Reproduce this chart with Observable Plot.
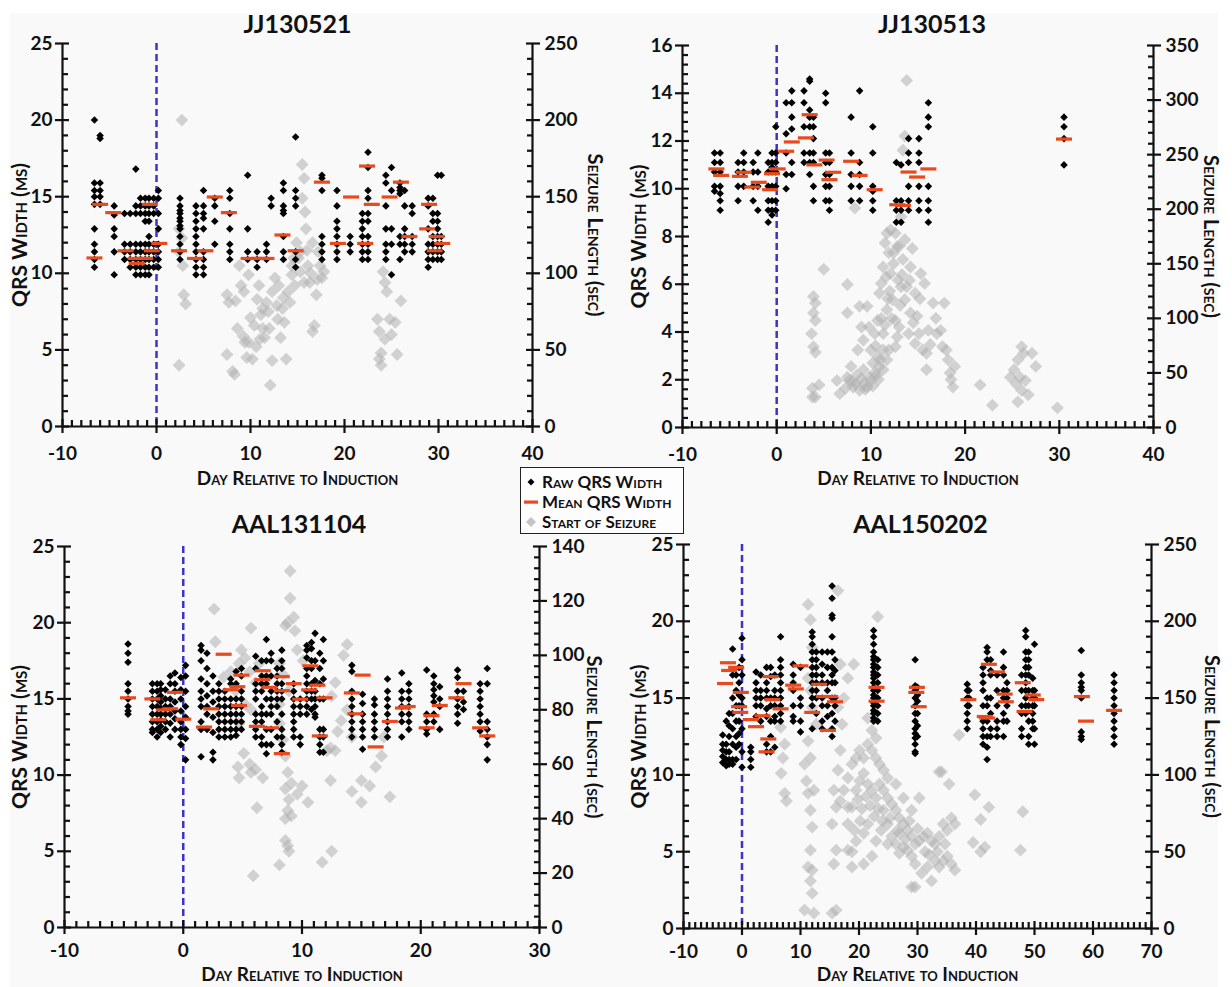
<!DOCTYPE html>
<html><head><meta charset="utf-8">
<script src="https://cdn.jsdelivr.net/npm/d3@7"></script>
<script src="https://cdn.jsdelivr.net/npm/@observablehq/plot@0.6"></script>
<style>
html,body{margin:0;padding:0;background:#fff;}
#root{position:relative;width:1232px;height:987px;overflow:hidden;font-family:Lato,"DejaVu Sans",sans-serif;}
#bg{position:absolute;left:10px;top:13px;width:1208px;height:974px;background:#f9f9f9;}
.panel{position:absolute;}
.panel svg{position:absolute;left:0;top:0;}
#legend{position:absolute;left:520px;top:467px;width:162px;height:65px;border:1.5px solid #222;background:#fdfdfd;font-weight:bold;font-variant:small-caps;font-size:17px;color:#111;}
#legend .row{position:absolute;left:0;height:20px;line-height:20px;white-space:nowrap;}
#legend svg{position:absolute;left:3px;top:4px;}
#legend span{position:absolute;left:21px;top:0;}
</style></head><body>
<div id="root"><div id="bg"></div></div>
<script>
// ---------- Panel 1: JJ130521 ----------
const p1XTicks = [-10, 0, 10, 20, 30, 40];
const p1YTicks = [0, 5, 10, 15, 20, 25];
const p1RTicks = [0, 50, 100, 150, 200, 250];
const p1Raw = [
  [-6.6,[20.0,15.9,15.4,15.0,14.5,12.9,11.9,11.4,10.9,10.4]],
  [-6.0,[19.0,18.8,15.9,15.4,15.0,14.5]],
  [-4.5,[14.4,13.8,12.9,12.4,11.4,9.9]],
  [-3.4,[13.9,11.9,11.4,10.9]],
  [-2.8,[13.9,11.9,11.4,10.9,10.4]],
  [-2.2,[16.8,14.4,13.9,11.9,11.4,10.9,10.4,9.9]],
  [-1.7,[14.9,14.4,13.9,11.9,11.4,10.9,10.4,9.9]],
  [-1.2,[14.9,14.4,13.9,13.4,11.9,11.4,10.9,10.4,9.9]],
  [-0.8,[14.9,14.4,13.9,13.4,12.4,11.9,11.4,10.9,10.4,9.9]],
  [-0.3,[14.9,14.4,13.9,11.9,11.4,10.9,10.4]],
  [0.2,[15.4,14.9,13.9,12.9,11.9,11.4,10.9,10.4]],
  [2.5,[14.9,14.4,14.1,13.9,13.6,13.4,13.1,12.9,12.4,11.9,11.4,10.9]],
  [4.2,[14.4,13.9,13.4,12.9,12.4,11.9,11.4,10.9,10.4,9.9]],
  [5.0,[15.4,14.4,13.9,13.6,12.9,11.4,10.9,10.4,9.9]],
  [6.2,[14.9,14.4,13.4,11.9]],
  [7.8,[15.4,14.9,13.9,12.9,11.9,11.4,10.9]],
  [9.7,[16.4,12.9,11.4,10.9]],
  [10.7,[11.4,10.9,10.4]],
  [11.7,[11.9,11.4,10.9]],
  [12.2,[14.9,14.4]],
  [13.5,[15.9,15.4,14.4,14.1,13.9,12.4,11.4,10.9]],
  [14.8,[18.9,15.4,14.9,14.4,11.4,10.9,10.4]],
  [17.6,[16.4,16.2,15.4,12.4,11.9,11.4,10.9]],
  [19.2,[15.4,14.4,13.4,12.9,12.4,11.9,11.4,10.9]],
  [20.6,[12.4,11.9,11.4]],
  [21.9,[13.9,13.4,12.9,12.4,11.9,11.4,10.9]],
  [22.5,[17.9,16.9,15.4,14.9,13.9,13.4,12.4,11.9,11.4,10.9]],
  [24.4,[16.4,15.9,14.4,12.9,11.9,11.4,10.9]],
  [25.0,[16.9,15.4,12.9,11.9,9.9]],
  [25.9,[15.9,15.6,15.4,15.2,12.4,11.9,10.9]],
  [26.4,[15.4,14.4,12.9,12.4,11.9,11.4]],
  [27.2,[14.4,13.9,12.4,11.9,11.4]],
  [28.9,[14.9,14.4,12.9,11.9,11.4,10.9,10.4]],
  [29.4,[14.9,13.9,13.4,12.4,11.9,11.4,10.9]],
  [29.9,[16.4,13.9,13.4,12.9,12.4,11.9,11.4,10.9]],
  [30.3,[16.4,12.4,11.9,11.4,10.9]]
];
const p1Mean = [[-6.6,11.0],[-6.0,14.5],[-4.6,13.96],[-3.3,11.47],[-2.2,10.97],[-2.1,10.65],[-1.2,10.97],[-0.7,14.5],[-0.5,11.47],[0.3,11.95],[2.4,11.47],[4.1,10.97],[5.2,11.47],[6.2,14.98],[7.7,13.96],[9.8,10.97],[10.9,10.97],[11.7,10.97],[13.4,12.5],[14.8,11.47],[17.6,15.95],[19.3,11.95],[20.7,14.98],[22.2,11.95],[22.4,17.0],[22.9,14.5],[24.8,14.98],[26.0,15.95],[26.9,12.4],[28.8,12.9],[29.0,14.5],[29.6,11.47],[29.8,12.4],[30.4,11.95]];
const p1Seiz = [[2.7,200],[2.4,129],[2.7,123],[2.4,114],[2.8,105],[2.9,86],[3.1,80],[2.4,40],
  [7.5,86],[7.7,81],[7.5,47],[8.1,36],[8.3,34],[8.6,64],[8.8,105],[9.0,92],[9.2,59],[9.4,55],[9.6,45],[9.8,99],[9.8,55],[10.2,44],[10.4,66],[10.7,83],[10.9,92],[11.1,73],[11.3,77],[11.3,64],[11.5,58],[11.7,81],[11.9,75],[12.1,27],[12.3,43],[12.3,88],[12.6,97],[12.8,79],[13.0,92],[13.2,58],[13.4,77],[13.6,68],[13.8,44],[14.0,88],[14.2,81],[14.4,105],[14.4,99],[14.7,92],[14.9,120],[15.1,110],[15.3,101],[15.5,149],[15.5,171],[15.7,162],[15.8,140],[15.9,129],[16.1,105],[16.3,94],[16.6,62],[16.6,120],[16.8,66],[17.0,86],[17.2,114],[17.4,105],[17.6,97],[17.8,101],[15.3,114],[15.7,94],
  [8.4,82],[9.3,88],[10.0,71],[10.6,52],[11.0,57],[12.0,64],[12.9,70],[13.5,84],[14.6,110],[16.0,115],[16.4,100],[17.1,96],
  [23.5,70],[23.7,62],[23.9,48],[23.7,44],[23.9,40],[24.1,101],[24.3,94],[24.5,88],[24.8,70],[25.0,60],[25.4,68],[25.6,47],[26.0,82],[24.3,57]];

// ---------- Panel 2: JJ130513 ----------
const p2XTicks = [-10, 0, 10, 20, 30, 40];
const p2YTicks = [0, 2, 4, 6, 8, 10, 12, 14, 16];
const p2RTicks = [0, 50, 100, 150, 200, 250, 300, 350];
const p2Raw = [
  [-6.6,[11.5,11.1,10.7,10.1,9.9]],
  [-6.0,[11.5,11.1,10.7,10.1,9.8,9.5,9.1]],
  [-4.1,[11.1,10.7,10.1,9.5]],
  [-3.5,[11.5,11.1,10.7,10.1]],
  [-2.5,[11.1,10.7,10.1,9.5]],
  [-2.0,[11.5,10.7,10.1,9.1]],
  [-0.9,[11.1,10.7,10.1,9.5,9.1,8.6]],
  [-0.5,[11.5,11.1,10.9,10.7,10.1,9.5,9.1,8.9]],
  [-0.1,[12.6,11.5,11.1,10.7,10.1,9.5,9.1]],
  [1.0,[13.6,12.3,11.5,10.6,10.0]],
  [1.6,[14.1,13.6,13.0,12.5,11.1,10.6]],
  [2.9,[14.1,13.6,12.6,11.5,11.1]],
  [3.5,[14.6,14.5,13.3,13.0,12.6,11.5,11.1,10.6]],
  [3.9,[13.0,12.6,12.1,11.5,11.1,10.1,9.5]],
  [5.2,[14.0,13.6,11.5,11.1,10.6,10.1,9.5]],
  [5.6,[11.5,11.1,10.6,10.1,9.5,9.1]],
  [7.9,[13.0,11.5,10.6,10.1,9.5]],
  [8.8,[14.1,11.1,10.6,10.1,9.5]],
  [10.2,[12.6,11.5,10.1,9.9,9.5,9.1]],
  [12.7,[11.1,9.5,9.1,8.6]],
  [13.2,[11.0,9.5,9.1,8.6]],
  [14.0,[12.1,11.5,11.1,10.1,9.5,9.1]],
  [15.1,[12.1,11.5,11.1,10.1,9.5,9.1]],
  [16.1,[13.6,13.0,12.6,10.1,9.5,9.1,8.6]],
  [30.5,[13.0,12.6,12.1,11.0]]
];
const p2Mean = [[-6.4,10.83],[-5.9,10.56],[-3.9,10.52],[-3.5,10.69],[-2.6,10.07],[-1.9,10.27],[-0.7,9.96],[-0.5,10.63],[0.1,10.83],[1.0,11.57],[1.6,11.96],[3.1,12.13],[3.5,13.1],[4.0,11.0],[5.3,11.2],[5.6,10.38],[6.0,10.69],[7.9,11.15],[8.8,10.56],[10.4,9.96],[12.8,9.33],[13.4,9.3],[14.0,10.7],[14.9,10.49],[16.1,10.83],[30.5,12.08]];
const p2Seiz = [[13.8,318],[13.6,267],[13.4,254],[8.3,201],[5.0,145],[7.5,131],
  [3.9,120],[4.1,114],[3.9,105],[4.1,98],[3.7,86],[3.9,74],[4.1,69],[3.8,36],[4.1,28],[4.5,39],[3.8,28],
  [7.5,105],[6.4,43],[6.7,31],
  [7.5,46],[8.1,37],[8.8,34],[9.2,40],[9.6,37],[10.0,43],[10.4,50],[10.9,56],[11.3,53],[11.7,62],[8.6,71],[9.0,92],[8.8,111],[9.6,111],[9.2,80],[9.8,92],[10.0,71],[10.4,86],[10.7,98],[10.9,123],[11.1,132],[11.3,147],[11.5,169],[11.7,178],[11.9,160],[12.1,141],[12.3,117],[12.6,98],[12.8,83],[11.9,71],[11.3,86],[11.7,108],[12.1,181],[12.6,178],[13.0,166],[13.4,154],[13.6,172],[13.2,193],[12.8,166],[13.8,129],[14.2,147],[14.4,164],[14.7,123],[14.9,102],[15.1,86],[15.5,71],[15.9,53],[15.3,141],[15.7,132],[15.9,68],[16.1,89],[16.6,114],[17.0,86],[17.4,89],[17.8,114],[18.0,71],[18.2,62],[18.4,50],[18.7,37],[18.9,56],[14.2,105],[14.7,77],[14.0,86],[13.6,117],[13.2,129],[11.3,71],[10.2,59],[9.2,53],[7.9,56],[7.3,36],[7.7,43],[9.8,46],[10.7,65],[12.6,74],[13.0,92],
  [8.4,40],[9.0,45],[10.6,48],[11.0,62],[11.5,94],[12.0,125],[12.4,150],[12.9,135],[13.3,140],[11.8,118],[12.2,100],[10.5,75],
  [8.0,42],[8.5,48],[9.4,35],[10.2,38],[10.8,44],[11.1,100],[11.6,138],[12.4,160],[13.1,112],[14.5,96],[15.2,118],[16.3,76],[16.9,100],[17.6,74],[18.5,44],[14.1,135],
  [21.6,39],[22.9,20.5],
  [25.2,53],[25.6,62],[26.0,74],[26.2,68],[25.8,46],[26.0,34],[25.6,23.5],[26.7,30],[27.1,68],[27.5,56],[24.8,46],[26.4,43],[25.4,40],
  [29.8,18]];

// ---------- Panel 3: AAL131104 ----------
const p3XTicks = [-10, 0, 10, 20, 30];
const p3YTicks = [0, 5, 10, 15, 20, 25];
const p3RTicks = [0, 20, 40, 60, 80, 100, 120, 140];
const p3Raw = [
  [-4.65,[18.6,18.0,17.4,16.0,15.5,15.0,14.5,14.2,14.0]],
  [-2.6,[16.0,15.5,15.0,14.5,14.0,13.5,13.0,12.8]],
  [-2.2,[16.0,15.5,15.0,14.5,14.0,13.5,13.0,12.5]],
  [-1.9,[16.0,15.6,15.2,14.8,14.4,14.0,13.6,13.2,12.8]],
  [-1.5,[15.6,15.0,14.5,14.0,13.5,13.0]],
  [-1.1,[16.5,16.0,15.0,14.5,14.0,13.4,12.5]],
  [-0.7,[16.7,16.0,15.5,14.8,14.2,13.7,13.0]],
  [-0.2,[16.4,15.6,15.0,14.2,13.5,13.0,12.5,12.0]],
  [0.2,[17.2,16.5,15.5,14.5,13.8,13.0,12.4,11.0]],
  [1.5,[18.5,18.2,17.5,16.3,15.5,15.0,14.5,13.5,13.0,11.2]],
  [2.0,[18.0,17.0,16.0,15.2,14.5,14.0,13.0]],
  [2.5,[16.5,15.5,14.8,13.8,12.8,11.5,11.0]],
  [3.0,[16.0,15.5,15.0,14.5,14.0,13.5,13.0,12.5]],
  [3.5,[15.5,15.0,14.5,14.0,13.5,13.0,12.5]],
  [4.0,[16.3,16.0,15.0,14.5,14.0,13.5,13.0,12.5]],
  [4.45,[16.8,16.0,15.0,14.5,14.0,13.5,13.0,12.6]],
  [4.9,[17.0,16.5,15.5,15.0,14.5,14.0,13.5,13.0]],
  [6.1,[17.8,17.0,16.0,15.5,15.0,14.0,13.5,13.0,12.5]],
  [6.6,[17.5,16.5,16.0,15.5,14.5,14.0,13.5,12.5,12.0]],
  [7.0,[18.9,17.5,16.5,16.0,15.0,14.0,13.0,12.0,11.4]],
  [7.4,[18.0,17.5,16.5,15.5,15.0,14.5,14.0,13.0,12.0]],
  [7.9,[17.0,16.5,16.0,15.5,15.0,14.5,13.5,12.5]],
  [8.3,[18.2,17.5,17.0,16.0,15.5,15.0,14.0,13.0,12.5,12.0,11.5]],
  [9.3,[16.0,15.5,15.0,14.5,14.0,13.5,13.0,12.5]],
  [9.85,[15.0,14.5,14.0,12.5,12.0]],
  [10.4,[18.5,18.2,17.7,17.0,16.5,16.0,15.5,15.0,14.5,14.0]],
  [10.8,[18.7,18.3,17.5,17.0,16.0,15.5,15.0,14.3]],
  [11.1,[19.3,17.5,16.2,15.5,15.0,14.5,14.0,13.8]],
  [11.5,[18.0,17.0,16.0,15.0,13.0,12.5,12.0,11.5]],
  [11.8,[18.9,17.5,16.3,15.0,13.0,12.5,11.5]],
  [14.2,[17.2,16.8,15.5,15.0,14.5,14.0,13.5,13.0,12.5]],
  [15.1,[15.3,14.7,14.0,13.5,13.0,12.5,11.7]],
  [16.1,[15.0,14.6,14.0,13.5,13.0,12.5]],
  [17.2,[16.3,15.5,15.0,14.5,14.0,13.5,13.0,12.5]],
  [18.4,[16.7,15.5,15.0,14.5,14.0,13.5,12.5]],
  [19.0,[16.0,15.5,15.0,14.5,14.0,13.5,13.0]],
  [20.5,[16.9,14.0,13.5,13.0,12.7]],
  [21.1,[16.5,16.0,15.6,15.2,14.8,14.0,13.5]],
  [21.6,[15.8,15.0,14.5,13.0]],
  [23.1,[16.9,16.4,15.5,15.0,14.5,14.0,13.4]],
  [23.6,[15.5,14.8,14.3]],
  [25.0,[16.0,15.5,15.0,14.5,14.0,13.5,12.9]],
  [25.6,[17.0,16.0,13.5,13.0,12.5,12.0,11.0]]
];
const p3Mean = [[-4.65,15.07],[-2.6,15.0],[-2.1,13.63],[-1.6,14.28],[-1.1,14.35],[-0.7,15.43],[0.0,13.67],[1.75,13.15],[2.35,14.35],[3.4,17.93],[4.0,15.6],[4.55,15.8],[4.9,16.56],[4.7,14.57],[6.2,13.2],[6.7,16.85],[6.65,16.26],[7.25,15.76],[7.4,13.1],[8.3,16.46],[8.3,15.54],[8.3,11.41],[9.3,16.0],[9.85,14.98],[10.7,17.17],[10.6,15.59],[11.3,15.9],[11.5,12.57],[11.9,15.07],[14.2,15.39],[14.5,14.02],[15.1,16.56],[16.2,11.85],[17.4,13.52],[18.9,14.5],[18.5,14.4],[20.5,13.1],[20.9,13.9],[21.6,14.57],[23.0,15.07],[23.6,16.0],[25.0,13.1],[25.6,12.57]];
const p3Seiz = [[9.0,131],[9.0,121],[2.6,117],[5.7,110],[8.6,111],[9.3,114],[9.4,109],[8.8,112],[2.7,105],[9.6,102],[10.1,98],[13.8,104],[13.5,100],[4.9,102],[5.2,99],[4.7,97],[5.6,94],[6.1,90],[6.4,97],[4.0,94],[3.4,92],[8.1,97],[8.4,93],[8.9,87],[8.1,82],[12.8,90],[12.5,85],[13.3,76],[13.8,80],[13.0,72],[14.2,70],[12.1,65],[12.8,65],[12.4,66],[16.9,70],[16.7,63],[16.2,59],[15.0,54],[15.7,52],[14.2,50],[15.0,46],[17.4,48],[12.4,54],[4.6,59],[4.7,55],[5.1,64],[5.6,60],[6.1,58],[6.7,55],[5.7,57],[4.4,87],[5.2,82],[5.7,80],[4.7,75],[8.1,75],[8.4,69],[8.6,63],[8.8,57],[9.1,53],[8.6,51],[8.9,47],[8.8,43],[9.1,41],[8.6,40],[9.6,49],[10.5,46],[10.0,52],[6.2,44],[8.6,32],[8.8,30],[8.9,28],[8.1,23],[5.9,19],[11.7,24],[12.5,28]];

// ---------- Panel 4: AAL150202 ----------
const p4XTicks = [-10, 0, 10, 20, 30, 40, 50, 60, 70];
const p4YTicks = [0, 5, 10, 15, 20, 25];
const p4RTicks = [0, 50, 100, 150, 200, 250];
const p4Raw = [
  [-3.3,[12.6,12.0,11.6,11.2,10.8]],
  [-2.7,[13.5,12.0,11.5,11.0,10.6]],
  [-2.2,[14.0,13.2,12.5,11.5,11.0,10.7]],
  [-1.6,[18.2,16.5,15.0,14.0,13.0,12.0,11.0,10.7]],
  [-1.0,[16.5,15.5,14.5,13.5,12.5,11.8,11.0]],
  [-0.5,[17.0,16.0,15.2,14.5,13.5,12.7,12.0]],
  [0.0,[18.9,17.5,16.5,15.0,14.5,13.0,11.5,10.5]],
  [1.5,[11.8,11.5,11.0,10.5]],
  [2.4,[16.7,16.0,15.5,15.0,14.5,13.8]],
  [3.2,[16.5,15.5,15.0,14.5,13.5]],
  [4.2,[17.0,16.0,15.5,15.0,14.3,13.8,12.0,11.5]],
  [4.9,[17.0,16.4,15.0,14.5,13.5,12.5,11.5]],
  [5.6,[16.5,15.5,15.0,14.5,13.8,13.5,11.8]],
  [6.6,[19.0,17.5,17.0,16.5,16.0,15.5,15.0,14.5,14.0,13.5]],
  [8.75,[17.2,16.5,16.0,15.5,14.5,13.8,13.5]],
  [10.0,[17.0,15.0,14.5,13.5,12.8]],
  [12.0,[19.3,19.0,18.5,18.0,17.5,17.0,16.5,16.0,15.5,15.0,14.5,13.0]],
  [12.7,[18.0,17.5,17.0,16.5,16.0,15.5,15.0,14.0]],
  [13.7,[18.0,17.2,16.5,16.0,15.0,14.5,13.5,13.0]],
  [14.6,[18.0,17.0,16.0,15.5,14.5,13.8]],
  [15.4,[22.3,21.5,20.4,20.2,19.0,18.0,17.0,16.5,16.0,15.0,14.0,13.0,12.5]],
  [15.9,[17.5,16.8,16.0,15.0,14.5,13.5]],
  [22.5,[19.4,19.0,18.5,18.0,17.7,17.5,17.2,17.0,16.7,16.5,16.3,16.0,15.7,15.5,15.2,15.0,14.7,14.5,14.2,14.0,13.7,13.5]],
  [23.2,[17.5,17.0,16.5,16.0,15.5,15.0,14.5,14.0,13.5]],
  [29.6,[17.5,15.8,15.5,15.0,14.5,14.0,13.5,13.0,12.7,12.4,12.0,11.5,11.4]],
  [30.0,[15.7,15.2,14.8,14.0,13.2,12.5]],
  [38.5,[15.9,15.5,15.0,14.5,14.0,13.5,13.0]],
  [38.8,[15.5,15.0,14.5]],
  [41.2,[17.0,16.5,16.0,15.5,14.5,13.5,13.0,12.5,12.0]],
  [41.9,[18.3,18.0,17.5,15.0,14.5,13.5,12.5,11.8,11.0]],
  [42.5,[17.5,16.8,16.5,15.0,14.0,13.0,12.5]],
  [43.6,[16.5,15.5,14.5,13.5,13.0,12.5]],
  [44.7,[18.0,17.0,16.5,15.5,15.0,14.0,13.5,12.5]],
  [45.3,[16.0,15.5,15.0,14.5,13.5]],
  [47.8,[16.5,15.5,14.5,14.0,13.0,12.5]],
  [48.5,[19.4,19.0,18.0,17.5,17.0,16.5,16.0,15.5,15.0,14.5,14.0]],
  [49.0,[18.0,17.5,17.0,16.5,15.5,14.5,13.5,12.5,12.0]],
  [49.7,[16.3,15.5,15.0,14.5,14.0,13.5,13.0]],
  [50.0,[18.5,15.5,15.0,14.5,13.0,12.0]],
  [58.0,[18.1,16.5,16.0,15.7,15.5,15.0,12.8,12.5,12.3]],
  [63.6,[16.5,16.0,15.5,15.0,14.5,14.0,13.5,13.0,12.5,12.0]]
];
const p4Mean = [[-2.4,17.3],[-2.9,15.95],[-2.2,16.8],[-1.0,17.0],[-0.5,14.44],[-0.2,15.37],[-0.3,14.07],[1.5,13.6],[2.4,13.14],[3.5,13.85],[4.5,12.34],[4.2,11.5],[4.9,16.4],[5.2,14.9],[6.6,14.3],[8.75,15.84],[9.2,15.6],[10.0,17.1],[12.0,14.07],[13.2,15.9],[14.0,15.1],[15.1,15.1],[14.7,12.9],[15.9,14.76],[23.0,15.7],[23.0,14.8],[29.9,15.7],[29.8,15.37],[30.2,14.44],[38.7,14.9],[42.2,17.2],[41.5,13.8],[41.9,13.7],[43.6,16.7],[44.9,15.26],[45.1,14.76],[48.0,16.0],[48.3,14.13],[49.7,15.2],[50.3,14.9],[58.1,15.1],[58.8,13.5],[63.6,14.2]];
const p4Seiz = [[16.4,220],[11.3,211],[11.7,201],[12.0,183],[23.2,203],
  [6.6,131],[7.3,120],[7.0,111],[6.7,101],[7.3,88],[7.6,83],
  [10.7,107],[11.0,96],[11.3,122],[11.7,111],[11.3,88],[11.7,77],[12.0,66],[11.7,51],[11.3,40],[11.7,31],[12.0,23],[10.7,12],[12.3,10],[12.0,38],[12.3,90],[12.7,133],[11.7,155],[11.3,163],[12.0,144],
  [15.4,10],[16.1,12],[15.7,42],[16.1,51],[15.4,68],[16.1,79],[15.7,90],[16.4,103],[16.8,116],[17.1,133],[16.4,144],[17.4,150],[16.8,172],[18.1,163],[19.1,172],
  [18.8,50],
  [17.4,90],[18.1,98],[18.8,107],[19.5,111],[20.1,116],[20.8,111],[21.5,120],[22.2,116],[22.9,111],[23.5,107],[24.2,103],[22.2,129],[21.5,137],[22.9,124],[18.1,68],[18.8,79],[19.5,90],[20.1,96],[20.8,101],[21.5,94],[22.2,90],[22.9,85],[23.5,94],[24.2,90],[24.9,85],[25.6,81],[26.3,77],[26.9,72],[27.6,68],[28.3,64],[29.0,60],[29.6,55],[30.3,57],[31.0,60],[31.7,62],[32.4,57],[33.0,55],[33.7,60],[34.4,68],[35.1,64],[35.8,72],[36.4,68],[35.4,94],[34.1,102],[30.3,85],[29.0,77],[27.6,85],[26.3,94],[24.9,98],[24.2,77],[24.9,68],[25.6,60],[26.3,55],[26.9,49],[27.6,53],[28.3,51],[29.0,47],[29.6,42],[30.7,36],[31.7,40],[32.4,31],[33.0,44],[33.7,40],[34.4,44],[35.1,47],[35.8,42],[36.4,38],[29.0,27],[29.6,27],[18.8,40],[20.8,42],[22.2,47],[20.8,62],[19.5,57],[22.9,57],[21.5,68],[18.1,79],[16.8,83],[19.2,64],[24.9,55],[26.6,64],[18.1,51],
  [19.8,84],[20.5,78],[21.2,86],[21.9,80],[22.6,73],[23.3,78],[24.0,70],[25.3,72],[26.9,62],[27.9,58],[28.6,70],[30.0,65],[31.3,50],[32.0,48],[33.4,50],[34.7,55],[23.8,64],[20.2,70],
  [33.7,102],[39.8,87],[40.8,71],[42.2,79],[39.5,56],[40.8,50],[41.5,53],[48.0,76],[47.6,51],[37.1,126]];

// ---------- Layout and styling ----------
const panels = [
  {title:"JJ130521", left:0, top:0, w:616, h:490, mt:43, mr:84, mb:64, ml:62, xDom:[-10,40], xTicks:p1XTicks, yDom:[0,25], yTicks:p1YTicks, yMinor:1, rDom:[0,250], rTicks:p1RTicks, rMinor:10, raw:p1Raw, mean:p1Mean, seiz:p1Seiz, tdy:-19, tdx:0, ldx:-42, rdx:62, xpad:20, xldy:52},
  {title:"JJ130513", left:616, top:0, w:616, h:490, mt:45, mr:79, mb:63, ml:66, xDom:[-10,40], xTicks:p2XTicks, yDom:[0,16], yTicks:p2YTicks, yMinor:0.4, rDom:[0,350], rTicks:p2RTicks, rMinor:10, raw:p2Raw, mean:p2Mean, seiz:p2Seiz, tdy:-21, tdx:14, ldx:-43, rdx:57, xpad:20, xldy:51},
  {title:"AAL131104", left:0, top:490, w:616, h:497, mt:56, mr:77, mb:60, ml:64, xDom:[-10,30], xTicks:p3XTicks, yDom:[0,25], yTicks:p3YTicks, yMinor:1, rDom:[0,140], rTicks:p3RTicks, rMinor:4, raw:p3Raw, mean:p3Mean, seiz:p3Seiz, tdy:-22, tdx:-3, ldx:-44, rdx:54, xpad:16, xldy:47},
  {title:"AAL150202", left:616, top:490, w:616, h:497, mt:54, mr:81, mb:59, ml:67, xDom:[-10,70], xTicks:p4XTicks, yDom:[0,25], yTicks:p4YTicks, yMinor:1, rDom:[0,250], rTicks:p4RTicks, rMinor:10, raw:p4Raw, mean:p4Mean, seiz:p4Seiz, tdy:-20, tdx:3, ldx:-44, rdx:60, xpad:16, xldy:46}
];

const RED = "#e8491d", BLUE = "#3d33c4", GRAY = "#b0b0b0", INK = "#111";
const FONT = "Lato, 'DejaVu Sans', sans-serif";
const svgStyle = `background: transparent; font-family: ${FONT}; font-size: 19px; font-weight: bold; color: ${INK}; overflow: visible;`;
const dashSymbol = {draw(ctx) { const w = 8, h = 1.6; ctx.moveTo(-w, -h); ctx.lineTo(w, -h); ctx.lineTo(w, h); ctx.lineTo(-w, h); ctx.closePath(); }};
const blank = () => "";

function minorTicks(dom, step, majors) {
  const n = Math.round((dom[1] - dom[0]) / step);
  return d3.range(n + 1).map(i => +(dom[0] + i * step).toFixed(4))
    .filter(v => !majors.some(m => Math.abs(m - v) < 1e-6));
}

const MAJ = 7, MIN = 6, AXW = 2.2, TKW = 2.2;
const root = document.getElementById("root");
for (const p of panels) {
  const div = document.createElement("div");
  div.className = "panel";
  div.style.left = p.left + "px"; div.style.top = p.top + "px";
  div.style.width = p.w + "px"; div.style.height = p.h + "px";
  root.appendChild(div);
  const common = {width: p.w, height: p.h, marginTop: p.mt, marginRight: p.mr, marginBottom: p.mb, marginLeft: p.ml, style: svgStyle};
  const xMin = minorTicks(p.xDom, 1, p.xTicks);
  const yMin = minorTicks(p.yDom, p.yMinor, p.yTicks);
  const rMin = minorTicks(p.rDom, p.rMinor, p.rTicks);
  const x0 = p.xDom[0], x1 = p.xDom[1], y0 = p.yDom[0];

  // Seizure layer (right axis)
  const seizPlot = Plot.plot({
    ...common,
    x: {domain: p.xDom, axis: null},
    y: {domain: p.rDom},
    marks: [
      Plot.dot(p.seiz, {x: d => d[0], y: d => d[1], symbol: "diamond2", r: 5.8, fill: GRAY, fillOpacity: 0.55}),
      Plot.ruleX([x1], {stroke: INK, strokeWidth: AXW}),
      Plot.axisY({anchor: "right", ticks: p.rTicks, tickSize: 2 * MAJ, dx: -MAJ, tickFormat: blank, label: null, stroke: INK, strokeWidth: TKW}),
      Plot.axisY({anchor: "right", ticks: rMin, tickSize: MIN, dx: -MIN, tickFormat: blank, label: null, stroke: INK, strokeWidth: TKW}),
      Plot.axisY({anchor: "right", ticks: p.rTicks, tickSize: 0, tickPadding: 12, label: null, tickFormat: d => String(d)})
    ]
  });

  // QRS layer (left axis, x axis)
  const raw = p.raw.flatMap(([day, vals]) => vals.map(v => ({day, qrs: v})));
  const qrsPlot = Plot.plot({
    ...common,
    x: {domain: p.xDom},
    y: {domain: p.yDom},
    marks: [
      Plot.ruleX([0], {stroke: BLUE, strokeWidth: 2.5, strokeDasharray: "7,4"}),
      Plot.dot(raw, {x: "day", y: "qrs", symbol: "diamond2", r: 3.4, fill: "#000"}),
      Plot.dot(p.mean, {x: d => d[0], y: d => d[1], symbol: dashSymbol, fill: RED}),
      Plot.ruleX([x0], {stroke: INK, strokeWidth: AXW}),
      Plot.ruleY([y0], {stroke: INK, strokeWidth: AXW}),
      Plot.axisY({anchor: "left", ticks: p.yTicks, tickSize: 2 * MAJ, dx: MAJ, tickFormat: blank, label: null, stroke: INK, strokeWidth: TKW}),
      Plot.axisY({anchor: "left", ticks: yMin, tickSize: MIN, dx: MIN, tickFormat: blank, label: null, stroke: INK, strokeWidth: TKW}),
      Plot.axisX({anchor: "bottom", ticks: p.xTicks, tickSize: 2 * MAJ, dy: -MAJ, tickFormat: blank, label: null, stroke: INK, strokeWidth: TKW}),
      Plot.axisX({anchor: "bottom", ticks: xMin, tickSize: MIN, dy: -MIN, tickFormat: blank, label: null, stroke: INK, strokeWidth: TKW}),
      Plot.axisY({anchor: "left", ticks: p.yTicks, tickSize: 0, tickPadding: 10, label: null, tickFormat: d => String(d)}),
      Plot.axisX({anchor: "bottom", ticks: p.xTicks, tickSize: 0, tickPadding: p.xpad, label: null, tickFormat: d => String(d)}),
      Plot.text([p.title], {frameAnchor: "top", dy: p.tdy, dx: p.tdx, textAnchor: "middle", lineAnchor: "middle", fontSize: 25, fontWeight: "bold", fill: INK}),
      Plot.text(["Day Relative to Induction"], {frameAnchor: "bottom", dy: p.xldy, textAnchor: "middle", lineAnchor: "middle", fontSize: 19, fontWeight: "bold", fontVariant: "small-caps", fill: INK}),
      Plot.text(["QRS Width (ms)"], {frameAnchor: "left", dx: p.ldx, rotate: -90, textAnchor: "middle", lineAnchor: "middle", fontSize: 21, fontWeight: "bold", fontVariant: "small-caps", fill: INK}),
      Plot.text(["Seizure Length (sec)"], {frameAnchor: "right", dx: p.rdx, rotate: 90, textAnchor: "middle", lineAnchor: "middle", fontSize: 20, fontWeight: "bold", fontVariant: "small-caps", fill: INK})
    ]
  });
  div.appendChild(seizPlot);
  div.appendChild(qrsPlot);
}

// Legend
const legend = document.createElement("div");
legend.id = "legend";
legend.innerHTML = `
  <div class="row" style="top:4px"><svg width="14" height="12"><path d="M7,2.5L10.5,6L7,9.5L3.5,6Z" fill="#000"/></svg><span>Raw QRS Width</span></div>
  <div class="row" style="top:24px"><svg width="14" height="12"><rect x="0" y="4.5" width="14" height="3.2" fill="${RED}"/></svg><span>Mean QRS Width</span></div>
  <div class="row" style="top:44px"><svg width="14" height="12"><path d="M7,1L12,6L7,11L2,6Z" fill="#c4c4c4"/></svg><span>Start of Seizure</span></div>`;
root.appendChild(legend);
</script>
</body></html>
